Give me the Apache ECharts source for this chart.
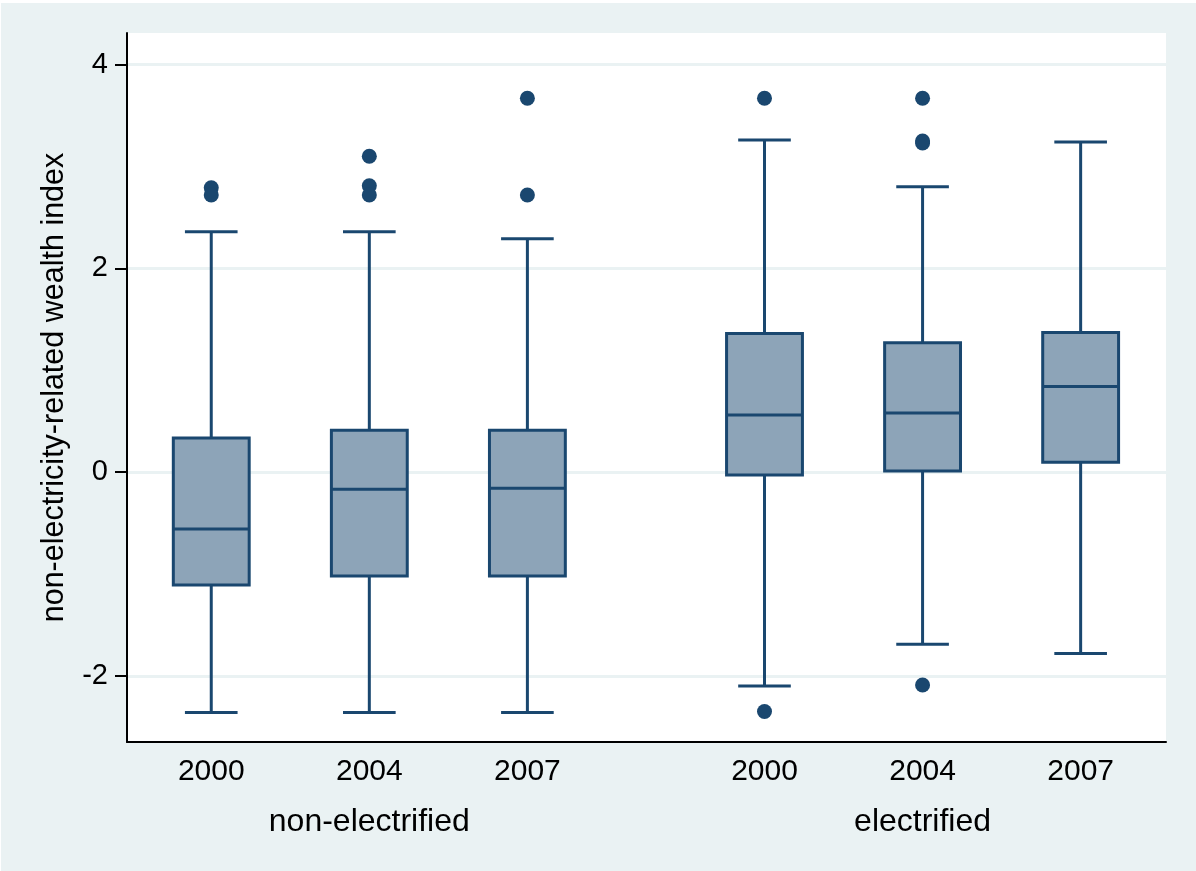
<!DOCTYPE html>
<html><head><meta charset="utf-8">
<script src="https://cdn.jsdelivr.net/npm/echarts@6/dist/echarts.min.js"></script>
<style>html,body{margin:0;padding:0;background:#fff;} #c{position:absolute;left:1px;top:3px;width:1195px;height:868px;}</style>
</head><body><div id="c"></div>
<script>
const groups = ['non-electrified', 'electrified'];
const years = ['2000', '2004', '2007'];
const lowerWhisker = [-2.36, -2.36, -2.36, -2.10, -1.69, -1.78];
const q1 = [-1.11, -1.02, -1.02, -0.03, 0.01, 0.095];
const median = [-0.56, -0.17, -0.16, 0.56, 0.58, 0.84];
const q3 = [0.335, 0.41, 0.41, 1.36, 1.27, 1.37];
const upperWhisker = [2.36, 2.36, 2.29, 3.26, 2.80, 3.24];
const outliers = [[2.79, 2.72], [3.10, 2.81, 2.72], [3.67, 2.72], [3.67, -2.35], [3.67, 3.25, 3.23, -2.09], []];
const yTicks = [-2, 0, 2, 4];

const NAVY = '#1A476F';
const FILL = '#8DA4B8';
const FONT = 'Liberation Sans, Arial, sans-serif';

// boxes one unit apart within a group; groups separated by an extra half unit
const boxes = [];
groups.forEach((g, gi) => years.forEach((yr, yi) => boxes.push({ group: g, year: yr, yi, pos: gi * 3.5 + yi + 1 })));

const boxData = boxes.map((b, k) => [b.pos, lowerWhisker[k], q1[k], median[k], q3[k], upperWhisker[k]]);
const outlierData = [];
boxes.forEach((b, k) => outliers[k].forEach(v => outlierData.push([b.pos, v])));

function renderBox(params, api) {
  const x = api.value(0);
  const unit = api.size([1, 0])[0];
  const bw = unit * 0.48, cw = unit * 0.333;
  const p = i => api.coord([x, api.value(i)]);
  const lo = p(1), b1 = p(2), md = p(3), b3 = p(4), hi = p(5);
  const cx = lo[0];
  const line = (x1, y1, x2, y2) => ({ type: 'line', shape: { x1, y1, x2, y2 }, style: { stroke: NAVY, lineWidth: 3 } });
  return {
    type: 'group', children: [
      line(cx, hi[1], cx, b3[1]),
      line(cx, b1[1], cx, lo[1]),
      line(cx - cw / 2, hi[1], cx + cw / 2, hi[1]),
      line(cx - cw / 2, lo[1], cx + cw / 2, lo[1]),
      { type: 'rect', shape: { x: cx - bw / 2, y: b3[1], width: bw, height: b1[1] - b3[1] }, style: { fill: FILL, stroke: NAVY, lineWidth: 3 } },
      line(cx - bw / 2, md[1], cx + bw / 2, md[1])
    ]
  };
}

const chart = echarts.init(document.getElementById('c'), null, { renderer: 'canvas' });
chart.setOption({
  backgroundColor: '#EAF2F3',
  animation: false,
  grid: { left: 126, right: 30, top: 30, bottom: 129, show: true, backgroundColor: '#ffffff', borderWidth: 0 },
  xAxis: {
    type: 'value', min: 0.467, max: 7.04,
    axisLine: { show: true, onZero: false, lineStyle: { color: '#000', width: 2 } },
    axisTick: { show: false },
    splitLine: { show: false },
    axisLabel: {
      customValues: boxes.map(b => b.pos),
      margin: 5,
      formatter: v => {
        const b = boxes.find(bb => Math.abs(bb.pos - v) < 1e-6);
        if (!b) return '';
        return b.yi === 1 ? '{y|' + b.year + '}\n{g|' + b.group + '}' : '{y|' + b.year + '}';
      },
      rich: {
        y: { fontSize: 30, lineHeight: 50, fontFamily: FONT, color: '#000' },
        g: { fontSize: 32, lineHeight: 50, fontFamily: FONT, color: '#000' }
      }
    }
  },
  yAxis: {
    type: 'value', min: -2.65, max: 4.31,
    name: 'non-electricity-related wealth index',
    nameLocation: 'middle', nameGap: 57,
    nameTextStyle: { fontSize: 30.5, color: '#000', fontFamily: FONT },
    axisLine: { show: true, lineStyle: { color: '#000', width: 2 } },
    axisTick: { show: true, length: 12, customValues: yTicks, lineStyle: { color: '#000', width: 2 } },
    axisLabel: { customValues: yTicks, fontSize: 29, color: '#000', fontFamily: FONT, margin: 19 },
    splitLine: { show: true, lineStyle: { color: '#EAF2F3', width: 3 } }
  },
  series: [
    {
      type: 'custom', renderItem: renderBox, data: boxData,
      encode: { x: 0, y: [1, 2, 3, 4, 5] }, z: 2
    },
    {
      type: 'scatter', data: outlierData, symbol: 'circle', symbolSize: 15,
      itemStyle: { color: NAVY, opacity: 1 }, z: 3
    }
  ]
});
</script>
</body></html>
